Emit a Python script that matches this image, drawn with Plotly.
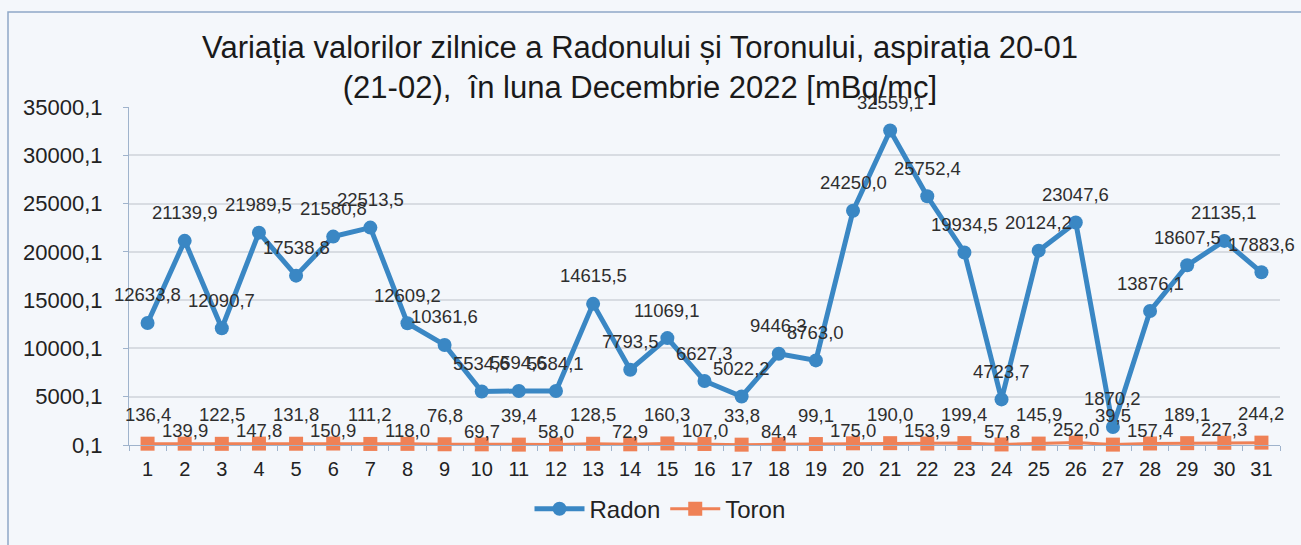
import plotly.graph_objects as go

days = [str(d) for d in range(1, 32)]
radon = [12633.8, 21139.9, 12090.7, 21989.5, 17538.8, 21580.8, 22513.5, 12609.2, 10361.6,
         5534.6, 5594.6, 5584.1, 14615.5, 7793.5, 11069.1, 6627.3, 5022.2, 9446.3, 8763.0,
         24250.0, 32559.1, 25752.4, 19934.5, 4723.7, 20124.2, 23047.6, 1870.2, 13876.1,
         18607.5, 21135.1, 17883.6]
toron = [136.4, 139.9, 122.5, 147.8, 131.8, 150.9, 111.2, 118.0, 76.8, 69.7, 39.4, 58.0,
         128.5, 72.9, 160.3, 107.0, 33.8, 84.4, 99.1, 175.0, 190.0, 153.9, 199.4, 57.8,
         145.9, 252.0, 39.5, 157.4, 189.1, 227.3, 244.2]
ytick_vals = [0.1, 5000.1, 10000.1, 15000.1, 20000.1, 25000.1, 30000.1, 35000.1]
ytick_text = ["0,1", "5000,1", "10000,1", "15000,1", "20000,1", "25000,1", "30000,1", "35000,1"]

BLUE = "#3a87c4"
ORANGE = "#ef8156"
FONT = "Liberation Sans, Arial, sans-serif"

def fmt(v):
    return f"{v:.1f}".replace(".", ",")

fig = go.Figure()
fig.add_trace(go.Scatter(x=days, y=radon, name="Radon", mode="lines+markers",
                         line=dict(color=BLUE, width=5),
                         marker=dict(symbol="circle", size=14, color=BLUE), cliponaxis=False))
fig.add_trace(go.Scatter(x=days, y=toron, name="Toron", mode="lines+markers",
                         line=dict(color=ORANGE, width=3),
                         marker=dict(symbol="square", size=14, color=ORANGE), cliponaxis=False))

# annotations on a category axis: x given as category index
annotations = []
for i, v in enumerate(radon):
    annotations.append(dict(x=i, y=v, text=fmt(v), showarrow=False, yshift=28,
                            font=dict(family=FONT, size=18.5, color="#2e2e2e")))
for i, v in enumerate(toron):
    annotations.append(dict(x=i, y=v, text=fmt(v), showarrow=False,
                            yshift=29 if i % 2 == 0 else 13,
                            font=dict(family=FONT, size=18.5, color="#2e2e2e")))

fig.update_layout(
    width=1301, height=545,
    margin=dict(l=129, r=21, t=107, b=100),
    paper_bgcolor="#f4f7fb", plot_bgcolor="#f4f7fb",
    font=dict(family=FONT, size=18, color="#222222"),
    title=dict(text="Variația valorilor zilnice a Radonului și Toronului, aspirația 20-01<br>(21-02),  în luna Decembrie 2022 [mBq/mc]",
               x=640 / 1301, xanchor="center", xref="container", y=1 - 58 / 545, yanchor="top", yref="container",
               font=dict(family=FONT, size=31, color="#1a1a1a")),
    showlegend=True,
    legend=dict(orientation="h", x=(660 - 129) / 1151, xanchor="center", y=-0.19, yanchor="middle",
                font=dict(family=FONT, size=24, color="#222222"), bgcolor="rgba(0,0,0,0)",
                itemwidth=50),
    annotations=annotations,
    xaxis=dict(type="category", range=[-0.5, 30.5], showgrid=False, showline=True,
               linecolor="#9fb3cc", linewidth=1, ticks="outside", tickson="boundaries",
               ticklen=5, tickcolor="#9fb3cc", ticklabelstandoff=6,
               tickfont=dict(family=FONT, size=20, color="#222222")),
    yaxis=dict(range=[0.1, 35000.1], tickmode="array", tickvals=ytick_vals, ticktext=ytick_text,
               showgrid=True, gridcolor="#d8dce2", gridwidth=1.5, zeroline=False,
               showline=True, linecolor="#9fb3cc", linewidth=1, ticks="outside", ticklen=5,
               tickcolor="#9fb3cc", ticklabelstandoff=16,
               tickfont=dict(family=FONT, size=22, color="#222222")),
)

pw = 1301 - 129 - 21
ph = 545 - 107 - 100
fig.add_shape(type="rect", xref="paper", yref="paper",
              x0=(8 - 129) / pw, x1=(1320 - 129) / pw,
              y0=(445 - 560) / ph, y1=(445 - 12) / ph,
              line=dict(color="#8fa8c8", width=1.5), fillcolor="rgba(0,0,0,0)", layer="below")

fig.write_html("out.html", config={"displayModeBar": False},
               post_script="document.body.style.margin='0px';")
